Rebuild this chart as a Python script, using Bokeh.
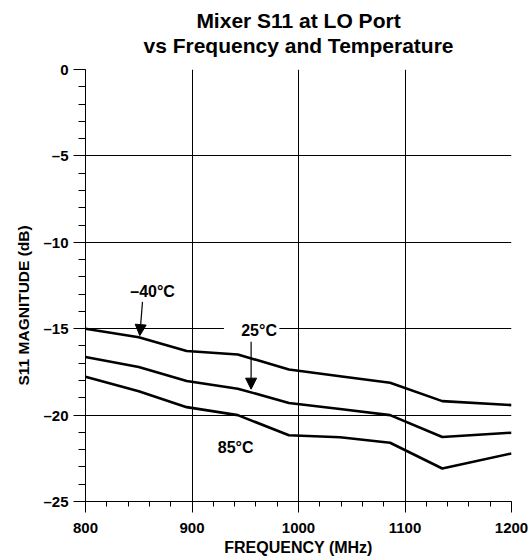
from bokeh.plotting import figure
from bokeh.models import (Range1d, FixedTicker, Label, Arrow, NormalHead,
                          BoxAnnotation, Title)
from bokeh.embed import file_html
from bokeh.resources import INLINE

# ---- data ----
freq = [800, 850, 895, 943, 991, 1039, 1086, 1135, 1200]
s11_m40 = [-15.0, -15.5, -16.29, -16.49, -17.36, -17.75, -18.13, -19.19, -19.42]
s11_25 = [-16.64, -17.22, -18.03, -18.47, -19.30, -19.65, -20.00, -21.27, -21.02]
s11_85 = [-17.78, -18.62, -19.54, -20.00, -21.17, -21.28, -21.60, -23.09, -22.22]

x_ticks = [800, 900, 1000, 1100, 1200]
y_ticks = [0, -5, -10, -15, -20, -25]
y_tick_labels = {0: "0", -5: "–5", -10: "–10", -15: "–15", -20: "–20", -25: "–25"}

title_lines = ["Mixer S11 at LO Port", "vs Frequency and Temperature"]
x_title = "FREQUENCY (MHz)"
y_title = "S11 MAGNITUDE (dB)"

FONT = "Liberation Sans"

p = figure(width=531, height=560, output_backend="svg", toolbar_location=None,
           x_range=Range1d(800, 1200), y_range=Range1d(-25, 0),
           min_border_left=85, min_border_right=20, min_border_top=69,
           min_border_bottom=59, background_fill_color="white",
           border_fill_color="white", outline_line_color=None)

# titles (the added Title sits closer to the frame than p.title)
p.title.text = title_lines[0]
p.title.align = "center"
p.title.text_font = FONT
p.title.text_font_style = "bold"
p.title.text_font_size = "21px"
p.title.text_color = "black"
p.title.standoff = -24
p.add_layout(Title(text=title_lines[1], align="center", text_font=FONT,
                   text_font_style="bold", text_font_size="21px",
                   text_color="black", standoff=25), "above")

# axes
for ax in (p.xaxis[0], p.yaxis[0]):
    ax.axis_line_color = "black"
    ax.axis_line_width = 1
    ax.major_tick_line_color = "black"
    ax.minor_tick_line_color = "black"
    ax.major_tick_in = 0
    ax.minor_tick_in = 0
    ax.major_label_text_font = FONT
    ax.major_label_text_font_style = "bold"
    ax.major_label_text_font_size = "15px"
    ax.major_label_text_color = "black"

p.xaxis.ticker = FixedTicker(ticks=x_ticks,
                             minor_ticks=list(range(800, 1201, 20)))
p.yaxis.ticker = FixedTicker(ticks=y_ticks, minor_ticks=list(range(-25, 1, 1)))
p.yaxis.major_label_overrides = y_tick_labels
p.xaxis.major_tick_out = 11
p.xaxis.minor_tick_out = 5
p.yaxis.major_tick_out = 12
p.yaxis.minor_tick_out = 7
p.xaxis.major_label_standoff = 10
p.yaxis.major_label_standoff = 5

p.xaxis.axis_label = x_title
p.xaxis.axis_label_text_font = FONT
p.xaxis.axis_label_text_font_style = "bold"
p.xaxis.axis_label_text_font_size = "16px"
p.xaxis.axis_label_text_color = "black"
p.xaxis.axis_label_standoff = 3

# y-axis title as a left Title so it can be shifted like the reference
p.add_layout(Title(text=y_title, align="left", offset=116, text_font=FONT,
                   text_font_style="bold", text_font_size="15.5px",
                   text_color="black", standoff=17), "left")

# grid
p.xgrid.grid_line_color = "black"
p.ygrid.grid_line_color = "black"
p.xgrid.grid_line_width = 1
p.ygrid.grid_line_width = 1
p.xgrid.grid_line_alpha = 1
p.ygrid.grid_line_alpha = 1

# curves
for ys in (s11_m40, s11_25, s11_85):
    p.line(freq, ys, line_color="black", line_width=2.6, line_join="round")

# white gap in the -15 dB grid line behind the 25°C label
p.add_layout(BoxAnnotation(left=930, right=982, bottom=-15.4, top=-14.75,
                           fill_color="white", fill_alpha=1, line_color=None))

lab_kw = dict(text_font=FONT, text_font_style="bold", text_font_size="16px",
              text_color="black", text_align="center", text_baseline="middle")
p.add_layout(Label(x=863, y=-12.86, text="–40°C", **lab_kw))
p.add_layout(Label(x=963, y=-15.12, text="25°C", **lab_kw))
p.add_layout(Label(x=941, y=-21.85, text="85°C", **lab_kw))

head_kw = dict(size=11, fill_color="black", line_color="black")
p.add_layout(Arrow(end=NormalHead(**head_kw), x_start=853.5, y_start=-13.45,
                   x_end=851, y_end=-15.4, line_color="black", line_width=1.2))
p.add_layout(Arrow(end=NormalHead(**head_kw), x_start=955.5, y_start=-15.75,
                   x_end=955.5, y_end=-18.5, line_color="black", line_width=1.2))

open("out.html", "w").write(file_html(p, INLINE))
